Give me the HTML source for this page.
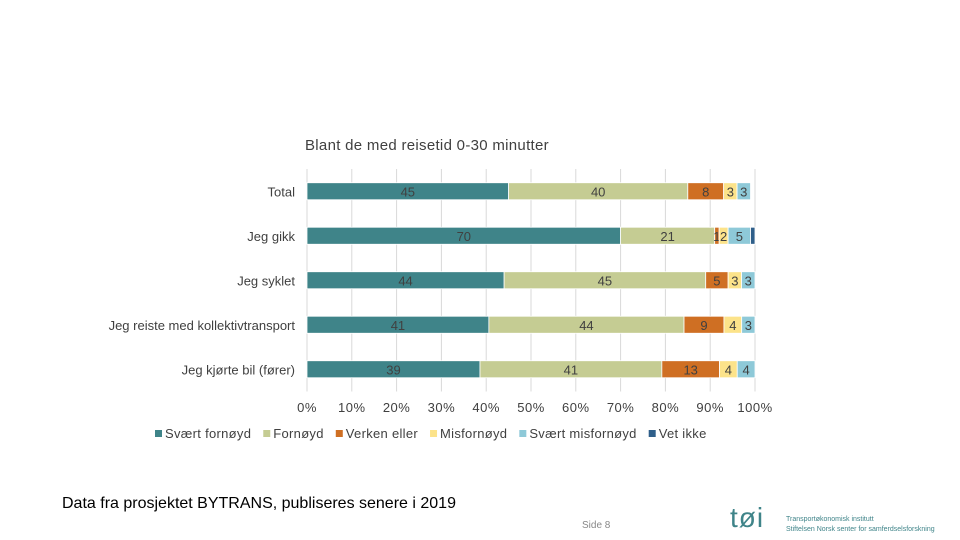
<!DOCTYPE html>
<html><head><meta charset="utf-8"><style>
body{margin:0;width:960px;height:540px;background:#fff;font-family:"Liberation Sans",sans-serif;overflow:hidden;position:relative}
.t{position:absolute;color:#404040;white-space:nowrap}
</style></head><body>
<div class="t" style="left:305px;top:137px;font-size:15px;letter-spacing:0.3px">Blant de med reisetid 0-30 minutter</div>
<svg id="c" width="960" height="540" style="position:absolute;left:0;top:0"></svg>
<div class="t" style="left:62px;top:495px;font-size:16px;color:#000">Data fra prosjektet BYTRANS, publiseres senere i 2019</div>
<div class="t" style="left:582px;top:520px;font-size:10px;color:#888">Side 8</div>
<div class="t" style="left:730px;top:502px;font-size:28px;color:#3f8489;letter-spacing:1px">tøi</div>
<div class="t" style="left:786px;top:515px;font-size:7px;color:#3f8489;line-height:10px">Transportøkonomisk institutt<br>Stiftelsen Norsk senter for samferdselsforskning</div>
<script>
const categories=["Total","Jeg gikk","Jeg syklet","Jeg reiste med kollektivtransport","Jeg kjørte bil (fører)"];
const seriesNames=["Svært fornøyd","Fornøyd","Verken eller","Misfornøyd","Svært misfornøyd","Vet ikke"];
const s1=[45,70,44,41,39];
const s2=[40,21,45,44,41];
const s3=[8,1,5,9,13];
const s4=[3,2,3,4,4];
const s5=[3,5,3,3,4];
const s6=[0,1,0,0,0];
const ticks=["0%","10%","20%","30%","40%","50%","60%","70%","80%","90%","100%"];
const colors=["#3f8489","#c5cc93","#cf6f23","#fce38a","#8ec9d8","#2f5f8a"];
const series=[s1,s2,s3,s4,s5,s6];
const NS="http://www.w3.org/2000/svg",svg=document.getElementById("c");
const x0=307,x1=755,yTop=169,rowH=44.5,bh=17;
const X=v=>x0+(x1-x0)*v/100, Y=i=>yTop+rowH*i+rowH/2;
function mk(t,a){const e=document.createElementNS(NS,t);for(const k in a)e.setAttribute(k,a[k]);svg.appendChild(e);return e;}
ticks.forEach((t,i)=>{const x=X(i*10);
 const g=mk("line",{x1:x,x2:x,y1:yTop,y2:yTop+rowH*5,stroke:"#d9d9d9"});
 
 
 const tx=mk("text",{x:x,y:412,"text-anchor":"middle","font-size":13,fill:"#404040","letter-spacing":0.5});
 tx.textContent=t;
 
 
});
categories.forEach((c,i)=>{
 const tx=mk("text",{x:295,y:Y(i)+5,"text-anchor":"end","font-size":13,fill:"#404040"});
 tx.textContent=c;
 
 
 let tot=0;series.forEach(s=>tot+=s[i]);
 const k=tot>100?100/tot:1;
 let acc=0;
 series.forEach((s,j)=>{const v=s[i];if(!v)return;const w=v*k;
  const r=mk("rect",{x:X(acc),y:Y(i)-bh/2,width:X(acc+w)-X(acc),height:bh,fill:colors[j],stroke:"#fff","stroke-width":0.8});
  
  
  if(j<5){const l=mk("text",{x:X(acc+w/2),y:Y(i)+5,"text-anchor":"middle","font-size":13,fill:"#404040"});
   l.textContent=v;
   
   }
  acc+=w;});
});
let lx=155;
seriesNames.forEach((n,j)=>{
 const r=mk("rect",{x:lx,y:430,width:7,height:7,fill:colors[j]});
 
 
 const t=mk("text",{x:lx+10,y:438,"font-size":13,fill:"#404040","letter-spacing":0.3});
 t.textContent=n;
 
 
 lx+=10+t.getComputedTextLength()+12;
});
</script>
</body></html>
